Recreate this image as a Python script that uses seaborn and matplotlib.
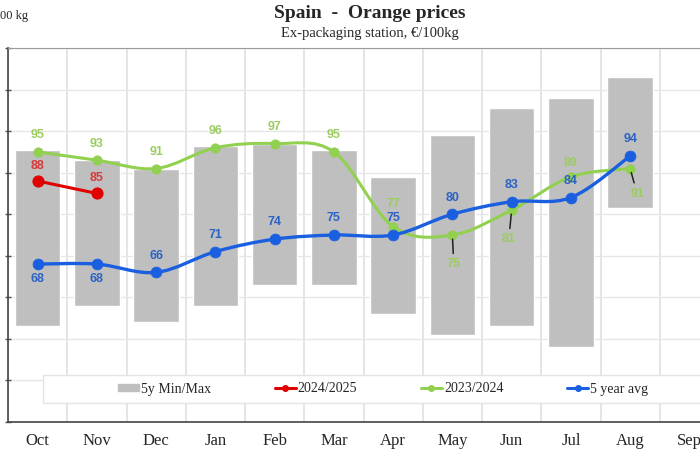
import numpy as np
import matplotlib
matplotlib.use("Agg")
import matplotlib.pyplot as plt
from matplotlib.path import Path
from matplotlib.patches import PathPatch, Rectangle
from matplotlib.lines import Line2D
from matplotlib.patches import Patch
import seaborn as sns

months = ["Oct", "Nov", "Dec", "Jan", "Feb", "Mar", "Apr", "May", "Jun", "Jul", "Aug", "Sep"]
range_min = [53, 58, 54, 58, 63, 63, 56, 51, 53, 48, 81.5]
range_max = [95.5, 93, 91, 96.5, 97, 95.5, 89, 99, 105.5, 108, 113]
prices_2425 = [88, 85]
prices_2324 = [95, 93, 91, 96, 97, 95, 77, 75, 81, 89, 91]
avg_5y = [68, 68, 66, 71, 74, 75, 75, 80, 83, 84, 94]

green = "#92d050"
red = "#e00000"
blue = "#1a5fe0"

sns.set_style("white")
serif = "Liberation Serif"
sans = "Liberation Sans"

fig = plt.figure(figsize=(7, 4.5), dpi=100)
ax = fig.add_axes([8 / 700, 28 / 450, 711 / 700, 374 / 450])


def smooth(ax, xs, ys, color, lw):
    # excel style smoothed line through the points (catmull-rom as bezier)
    pts = np.column_stack([xs, ys]).astype(float)
    n = len(pts)
    verts = [pts[0]]
    codes = [Path.MOVETO]
    for i in range(n - 1):
        p0 = pts[i - 1] if i > 0 else pts[i]
        p1 = pts[i]
        p2 = pts[i + 1]
        p3 = pts[i + 2] if i + 2 < n else pts[i + 1]
        verts += [p1 + (p2 - p0) / 6, p2 - (p3 - p1) / 6, p2]
        codes += [Path.CURVE4] * 3
    ax.add_patch(PathPatch(Path(verts, codes), fc="none", ec=color, lw=lw,
                           zorder=4, capstyle="round"))


x_all = np.arange(len(range_min))
ax.bar(x_all, np.array(range_max) - np.array(range_min), bottom=range_min,
       width=0.77, color="#bfbfbf", zorder=2)

smooth(ax, x_all, prices_2324, green, 2.2)
sns.scatterplot(x=x_all, y=prices_2324, color=green, s=45, edgecolor=green,
                zorder=5, ax=ax, legend=False)
smooth(ax, x_all, avg_5y, blue, 2.4)
sns.scatterplot(x=x_all, y=avg_5y, color=blue, s=60, edgecolor=blue,
                zorder=6, ax=ax, legend=False)
sns.lineplot(x=np.arange(len(prices_2425)), y=prices_2425, color=red, lw=2.2,
             marker="o", markersize=8, markeredgecolor=red, zorder=6, ax=ax)

lab = dict(fontsize=9, fontweight="bold", family=sans, ha="center", va="center", zorder=7)
for i, v in enumerate(prices_2425):
    ax.annotate(str(v), (i, v), xytext=(0, 11), textcoords="offset points",
                color="#d83a3a", **lab)

green_off = [(0, 12), (0, 12), (0, 12), (0, 12), (0, 12), (0, 12), (0, 16),
             (1, -21), (-2, -21), (0, 10), (5, -18)]
for i, v in enumerate(prices_2324):
    dx, dy = green_off[i]
    arrow = None
    if dy < -15:
        arrow = dict(arrowstyle="-", color="#222222", lw=1.1, shrinkA=1, shrinkB=3)
    ax.annotate(str(v), (i, v), xytext=(dx, dy), textcoords="offset points",
                color="#9ccc60", arrowprops=arrow, **lab)

for i, v in enumerate(avg_5y):
    dy = -11 if i < 2 else 12
    ax.annotate(str(v), (i, v), xytext=(0, dy), textcoords="offset points",
                color="#2b62c4", **lab)

ax.set_xlim(-0.5, 11.5)
ax.set_ylim(30, 120)
ax.set_xticks(np.arange(12))
ax.set_xticklabels(months, family=serif, fontsize=12)
ax.set_xticks(np.arange(-0.5, 12, 1), minor=True)
ax.set_yticks(np.arange(30, 121, 10))
ax.set_yticklabels([])
ax.tick_params(axis="x", which="major", length=0, pad=8)
ax.tick_params(axis="x", which="minor", length=5, width=1, color="#555555", direction="inout")
ax.tick_params(axis="y", length=4, width=1, color="#555555", direction="inout", left=True)
ax.grid(axis="y", color="#e6e6e6", lw=1, zorder=0)
ax.grid(axis="x", which="minor", color="#e0e0e0", lw=1.2, zorder=0)
ax.set_axisbelow(True)
for s in ["left", "bottom"]:
    ax.spines[s].set_color("#444444")
    ax.spines[s].set_linewidth(1.2)
ax.spines["top"].set_color("#9a9a9a")
ax.spines["right"].set_visible(False)

# legend
ax.add_patch(Rectangle((43 / 700, 47 / 450), 690 / 700, 28 / 450, transform=fig.transFigure,
                       fc="white", ec="#e4e4e4", lw=1, zorder=8, clip_on=False))
handles = [
    Patch(color="#bfbfbf", label="5y Min/Max"),
    Line2D([], [], color=red, lw=2.2, marker="o", markersize=4, label="2024/2025"),
    Line2D([], [], color=green, lw=2.2, marker="o", markersize=4, label="2023/2024"),
    Line2D([], [], color=blue, lw=2.2, marker="o", markersize=4, label="5 year avg"),
]
leg = ax.legend(handles=handles, ncol=4, loc="center", frameon=False,
                bbox_to_anchor=(383 / 700, 61 / 450), bbox_transform=fig.transFigure,
                prop={"family": serif, "size": 10}, handlelength=1.5, handleheight=0.35,
                handletextpad=0.15, columnspacing=4.6)
leg.set_zorder(9)

fig.text(370 / 700, 1 - 14 / 450, "Spain  -  Orange prices", ha="center", va="center",
         family=serif, fontsize=14, fontweight="bold")
fig.text(370 / 700, 1 - 33 / 450, "Ex-packaging station, €/100kg", ha="center", va="center",
         family=serif, fontsize=10.5)
fig.text(28 / 700, 1 - 16 / 450, "€/100 kg", ha="right", va="center", family=serif, fontsize=9)

fig.savefig("out.png", dpi=100)
